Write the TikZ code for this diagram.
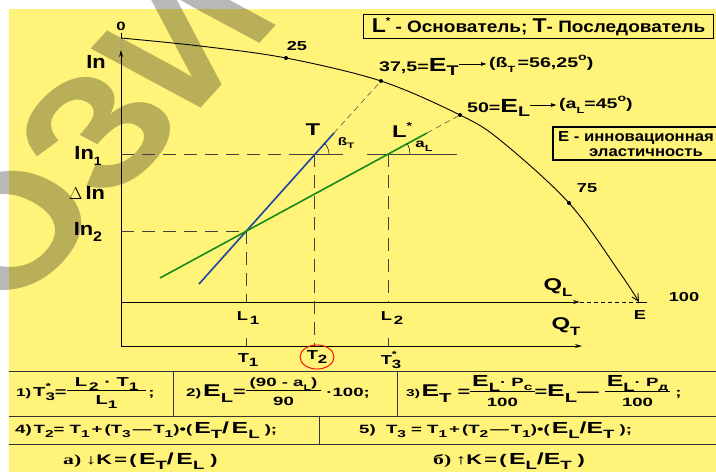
\documentclass[tikz,border=0pt]{standalone}
\usepackage{fontspec}
\setmainfont{Liberation Sans}[FakeStretch=1.4]
\newfontfamily\nf{Liberation Sans}[FakeStretch=1.15]
\newfontfamily\tf{Liberation Sans}[FakeStretch=1.55]
\newfontfamily\serifb{Liberation Serif}[FakeStretch=1.55]
\usetikzlibrary{arrows.meta}
\definecolor{bgy}{RGB}{255,243,122}
\definecolor{tblue}{RGB}{25,70,160}
\definecolor{lgreen}{RGB}{20,140,20}
\newcommand\fz[1]{\fontsize{#1}{#1}\selectfont}
\newcommand\dn[2]{\raisebox{-0.35em}{\fz{#1}#2}}
\newcommand\up[2]{\raisebox{0.5em}{\fz{#1}#2}}
\newcommand\fr[3]{$\vcenter{\hbox{\setlength\arrayrulewidth{0.8pt}\begin{tabular}{@{\hspace{#1}}c@{\hspace{#1}}}#2\\[-1pt]\hline\rule{0pt}{1.05em}#3\end{tabular}}}$}
\tikzset{
  dsh/.style={line width=0.6pt, draw=black!75, dash pattern=on 13pt off 8pt},
  thin line/.style={line width=0.6pt, draw=black!75},
  axis/.style={line width=1pt, -{Stealth[length=7pt,width=4pt]}},
  lbl/.style={font=\bfseries, inner sep=0pt},
  tlbl/.style={font=\tf\bfseries, inner sep=0pt, anchor=west},
  dot/.style={circle, fill=black, inner sep=0pt, minimum size=4pt},
  frame/.style={draw, line width=1.2pt, inner sep=0pt},
  lab arrow/.style={line width=0.8pt, -{Latex[length=6pt,width=4pt]}},
  rule/.style={line width=1pt, draw=black!80}
}
\begin{document}
\begin{tikzpicture}[x=1pt,y=-1pt,font=\bfseries]
\useasboundingbox (0,0) rectangle (716,472);
\fill[bgy] (9,9) rectangle (716,472);

% watermark
\begin{scope}[xscale=1.3]
\node[rotate=55, transform shape, inner sep=0pt, text=black, opacity=0.28, font=\nf\fz{150}\bfseries] (wm) at (72,136) {ОЗИ};
\end{scope}

% coordinates
\coordinate (yb) at (121,346);
\coordinate (yt) at (121,50);
\coordinate (qlS) at (121,302);
\coordinate (qlE) at (580,302);
\coordinate (E) at (639,302);
\coordinate (qtE) at (582,346);
\coordinate (c0) at (121,38);
\coordinate (c0t) at (121,33);
\coordinate (X) at (246,231);
\coordinate (b1) at (199,284);
\coordinate (b2) at (334,133);
\coordinate (g1) at (160,278);
\coordinate (g2) at (427,133);
\coordinate (Tp) at (314,154);
\coordinate (Lp) at (388,154);
\coordinate (a37e) at (487,64);
\coordinate (a50e) at (557,105);

% title
\node[frame, anchor=north west, minimum width=350, minimum height=24] (title) at (363,14)
  {\nf\fz{16.5}{\fz{20}L}\up{10}{*} - Основатель; {\fz{20}T}- Последователь};

% E box
\draw[line width=1.2pt] (725,127) -- (553,127) -- (553,160) -- (725,160);
\node[lbl, anchor=west] (einn) at (558,138) {\nf\fz{14.5}E - инновационная};
\node[lbl] (eel) at (646,153) {\nf\fz{14.5}эластичность};

% axes
\draw[axis] (yb) -- (yt);
\draw[line width=1pt] (c0t) -- (c0);
\draw[line width=0.5pt, black!40, densely dotted] (c0) -- (yt);
\draw[axis] (qlS) -- (qlE);
\draw[line width=0.8pt, dash pattern=on 4pt off 3pt] (qlE) -- (E);
\draw[axis] (yb) -- (qtE);

% curve
\draw[line width=0.9pt, -{Straight Barb[length=7pt,width=7pt]}] plot[smooth, tension=0.55] coordinates
  {(121,38) (200,46) (286,58) (381,81) (460,115) (500,140) (569,203) (620,273) (639,302)};
\draw[line width=0.9pt] (E) -- ++(8,0);
\node[dot] (p25) at (286,58) {};
\node[dot] (p37) at (381,81) {};
\node[dot] (p50) at (460,115) {};
\node[dot] (p75) at (569,203) {};

% dashed guide lines
\draw[dsh] (121,154) -- (296,154);
\draw[thin line] (296,154) -- (343,154);
\draw[thin line] (367,154) -- (457,154);
\draw[dsh] (121,231) -- (X);
\draw[dsh] (X) -- (246,302);
\draw[thin line] (246,338) -- (246,346);
\draw[dsh] (Tp) -- (314,346);
\draw[dsh] (Lp) -- (388,302);
\draw[thin line] (388,338) -- (388,346);

% lines T and L*
\draw[line width=0.5pt, black!75, dash pattern=on 6pt off 4pt] (b2) -- (p37);
\draw[line width=0.5pt, black!75, dash pattern=on 6pt off 4pt] (g2) -- (p50);
\draw[line width=1.6pt, tblue] (b1) -- (b2);
\draw[line width=1.6pt, lgreen] (g1) -- (g2);

% angle arcs
\draw[line width=0.5pt] (Tp) ++(15,0) arc[start angle=0, end angle=-48, radius=15];
\draw[line width=0.5pt] (Lp) ++(22,0) arc[start angle=0, end angle=-28, radius=22];

% labels on graph
\node[lbl] (l0) at (121,26) {\fz{12}0};
\node[lbl] (l25) at (297,46) {\fz{13}25};
\node[lbl] (l75) at (587,188) {\fz{13}75};
\node[lbl, anchor=west] (l37) at (379,67) {\fz{14}37,5={\fz{19}E}\dn{14}{T}};
\draw[lab arrow] (l37.east |- a37e) -- (a37e);
\node[lbl, anchor=west] (l37b) at (489,64) {\fz{14}(ß\dn{9}{T}\,=56,25\up{10}{o})};
\node[lbl, anchor=west] (l50) at (467,108) {\fz{14}50={\fz{19}E}\dn{14}{L}};
\draw[lab arrow] (l50.east |- a50e) -- (a50e);
\node[lbl, anchor=west] (l50b) at (559,105) {\fz{14}(a\dn{9}{L}=45\up{10}{o})};

\node[lbl] (lT) at (313,130) {\fz{17}T};
\node[lbl] (lL) at (402,130) {\fz{17}L\up{10}{*}};
\node[lbl] (lbT) at (346,143) {\fz{11}ß\dn{8}{T}};
\node[lbl] (laL) at (424,146) {\fz{12}a\dn{9}{L}};

\node[lbl] (lIn) at (96,62) {\nf\fz{19}In};
\node[lbl] (lIn1) at (88,156) {\nf\fz{19}In\dn{12}{1}};
\node[lbl] (lDIn) at (87,193) {\nf\fz{19}$\Delta$\,In};
\node[lbl] (lIn2) at (88,232) {\nf\fz{19}In\dn{14}{2}};

\node[lbl] (lL1) at (248,318) {\fz{13}L\dn{12}{\,1}};
\node[lbl] (lL2) at (392,318) {\fz{13}L\dn{12}{\,2}};
\node[lbl] (lT1) at (248,360) {\fz{13}T\dn{12}{1}};
\node[lbl] (lT2) at (317,357) {\fz{13}T\dn{12}{2}};
\draw[red, line width=0.9pt] (lT2) ellipse[x radius=17, y radius=12];
\node[lbl] (lT3) at (391,360) {\fz{13}T\rlap{\up{9}{*}}\dn{12}{3}};

\node[lbl] (lQL) at (558,288) {\fz{17}Q\dn{12}{L}};
\node[lbl] (lQT) at (566,327) {\fz{17}Q\dn{12}{T}};
\node[lbl] (l100) at (684,297) {\fz{13}100};
\node[lbl] (lE) at (640,315) {\fz{13}E};

% table
\draw[rule] (9,371) -- (716,371);
\draw[rule] (9,416) -- (716,416);
\draw[rule] (9,444) -- (716,444);
\draw[rule] (173,371) -- (173,416);
\draw[rule] (397,371) -- (397,416);
\draw[rule] (319,416) -- (319,444);

\node[tlbl] (f1) at (16,393)
  {\fz{11}1)\,\fz{13}T\rlap{\up{9}{*}}\dn{11}{3}=\fr{8pt}{\fz{13}L\,\dn{11}{2}~·~T\dn{11}{1}}{\fz{13}L\dn{11}{1}}\fz{12}\,;};
\node[tlbl] (f2) at (186,393)
  {\fz{11}2)\,\fz{17}E\dn{13}{L}\fz{14}=\fr{4pt}{\fz{12}(90 - a\dn{8}{L})}{\fz{12}90}\fz{12}~·100;};
\node[tlbl] (f3) at (406,393)
  {\fz{10}3)\,\fz{17}E\dn{13}{T}\fz{14}~=\fr{2pt}{\fz{16}E\dn{12}{L}\fz{12}·~P\dn{10}{c}}{\fz{12}100}\fz{14}=\fz{17}E\dn{13}{L}\fz{14}—~\fr{2pt}{\fz{16}E\dn{12}{L}\fz{12}·~P\dn{10}{д}}{\fz{12}100}\fz{12}~;};

\node[tlbl] (f4) at (15,430)
  {\fz{12}4)\,T\dn{10}{2}=~T\dn{10}{1}\,+\,(T\dn{10}{3}\,—\,T\dn{10}{1})•(\,\fz{16}E\dn{12}{T}/\,E\dn{12}{L}\fz{12}~);};
\node[tlbl] (f5) at (359,430)
  {\fz{12}5)~~T\dn{10}{3}~=~T\dn{10}{1}\,+\,(T\dn{10}{2}\,—\,T\dn{10}{1})•(\,\fz{16}E\dn{12}{L}/E\dn{12}{T}\fz{12}~);};

\node[tlbl] (fa) at (63,461)
  {{\serifb\fz{14}а)}~\fz{14}↓K\,=\,(\,\fz{16}E\dn{12}{T}/\,E\dn{12}{L}\fz{14}~)};
\node[tlbl] (fb) at (433,461)
  {{\serifb\fz{14}б)}~\fz{14}↑K\,=\,(\,\fz{16}E\dn{12}{L}/E\dn{12}{T}\fz{14}~)};
\end{tikzpicture}
\end{document}
